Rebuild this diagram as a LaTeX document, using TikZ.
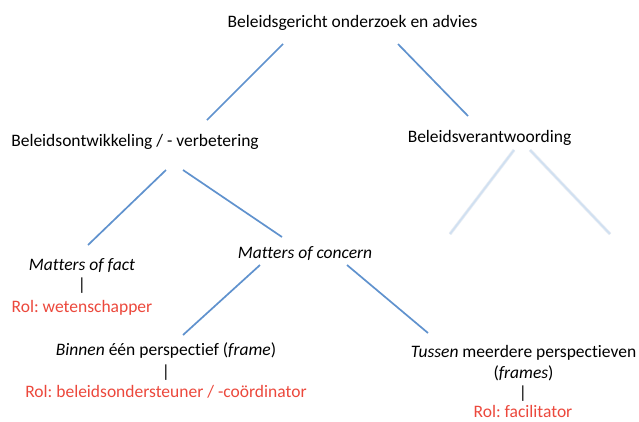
\documentclass[tikz,border=0pt]{standalone}
\usepackage{fontspec}
\setmainfont{Carlito}[Ligatures=NoCommon]
\frenchspacing
\definecolor{branchblue}{RGB}{96,146,206}
\definecolor{faintblue}{RGB}{208,224,241}
\definecolor{faintedge}{RGB}{232,237,244}
\definecolor{rolred}{RGB}{236,72,60}
\begin{document}
\begin{tikzpicture}[x=1pt,y=-1pt,
  lbl/.style={inner sep=0pt, anchor=base, font=\fontsize{17.5}{21}\selectfont},
  rol/.style={lbl, text=rolred},
  branch/.style={draw=branchblue, line width=1.7pt},
  ghostedge/.style={draw=faintedge, line width=3.2pt},
  ghost/.style={draw=faintblue, line width=1.7pt}]

\useasboundingbox[fill=white] (0,0) rectangle (639,421);

% tree labels
\node[lbl] (title)   at (352.5,27.5) {Beleidsgericht onderzoek en advies};
\node[lbl] (dev)     at (135,146.5)  {Beleidsontwikkeling / - verbetering};
\node[lbl] (acc)     at (489.5,142.5) {Beleidsverantwoording};

\node[lbl] (fact)    at (82,270.5)   {\textit{Matters of fact}};
\node[lbl] (factbar) at (82,290)     {|};
\node[rol] (factrol) at (82,312.5)   {Rol: wetenschapper};

\node[lbl] (concern) at (305,258.5)  {\textit{Matters of concern}};

\node[lbl] (within)    at (166,355.5) {\textit{Binnen} één perspectief (\textit{frame})};
\node[lbl] (withinbar) at (166,377)   {|};
\node[rol] (withinrol) at (166,397.5) {Rol: beleidsondersteuner / -coördinator};

\node[lbl] (between)       at (523.5,357.5) {\textit{Tussen} meerdere perspectieven};
\node[lbl] (betweenframes) at (523.5,378)   {(\textit{frames})};
\node[lbl] (betweenbar)    at (523,398)     {|};
\node[rol] (betweenrol)    at (523,417.5)   {Rol: facilitator};

% connector end points, just clear of the labels
\coordinate (titleL)   at (283,44);
\coordinate (titleR)   at (398,44);
\coordinate (devtop)   at (207,120);
\coordinate (acctop)   at (468,116);
\coordinate (devL)     at (166,170);
\coordinate (devR)     at (183,170);
\coordinate (facttop)  at (88,245);
\coordinate (conctop)  at (282,237);
\coordinate (concL)    at (260,265);
\coordinate (concR)    at (347,265);
\coordinate (withintop)  at (183,335);
\coordinate (betweentop) at (428,333);
\coordinate (accL)     at (514,150);
\coordinate (accR)     at (530,150);
\coordinate (accLend)  at (450,234);
\coordinate (accRend)  at (610,234);

% branches
\draw[branch] (titleL) -- (devtop);
\draw[branch] (titleR) -- (acctop);
\draw[branch] (devL) -- (facttop);
\draw[branch] (devR) -- (conctop);
\draw[branch] (concL) -- (withintop);
\draw[branch] (concR) -- (betweentop);

% faded branches under the accountability label
\draw[ghostedge] (accL) -- (accLend);
\draw[ghostedge] (accR) -- (accRend);
\draw[ghost] (accL) -- (accLend);
\draw[ghost] (accR) -- (accRend);
\end{tikzpicture}
\end{document}
